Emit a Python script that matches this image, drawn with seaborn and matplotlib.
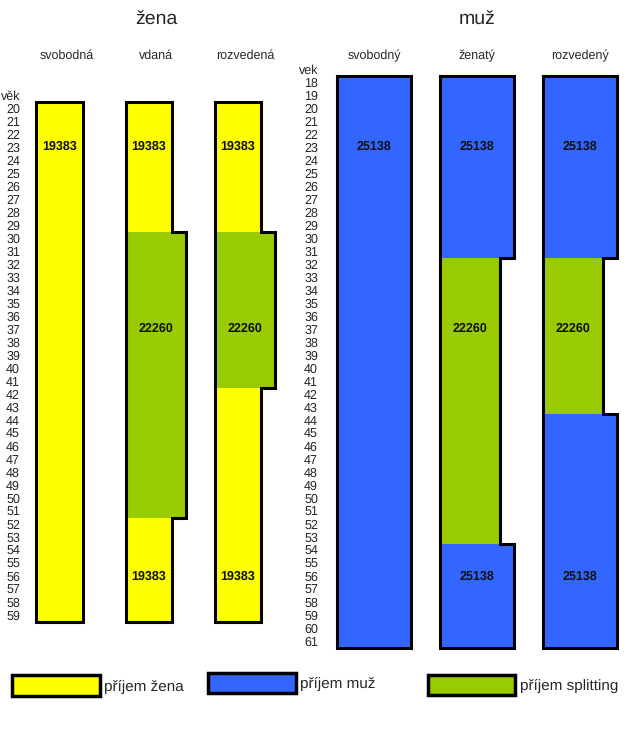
import matplotlib
matplotlib.use("Agg")
import matplotlib.pyplot as plt
from matplotlib.patches import Patch
import seaborn as sns
import pandas as pd

# ---------------- data ----------------
INCOME_ZENA = 19383
INCOME_MUZ = 25138
INCOME_SPLITTING = 22260

panel_titles = ["žena", "muž"]
age_headers = ["věk", "vek"]
women_ages = list(range(20, 60))
men_ages = list(range(18, 62))
women_columns = ["svobodná", "vdaná", "rozvedená"]
men_columns = ["svobodný", "ženatý", "rozvedený"]
women_segments = [
    [(20, 59, "žena")],
    [(20, 29, "žena"), (30, 51, "splitting"), (52, 59, "žena")],
    [(20, 29, "žena"), (30, 41, "splitting"), (42, 59, "žena")],
]
men_segments = [
    [(18, 61, "muž")],
    [(18, 31, "muž"), (32, 53, "splitting"), (54, 61, "muž")],
    [(18, 31, "muž"), (32, 43, "splitting"), (44, 61, "muž")],
]
label_ages = [23, 37, 56]
legend_kinds = ["žena", "muž", "splitting"]
legend_labels = ["příjem žena", "příjem muž", "příjem splitting"]

income_by_kind = {"žena": INCOME_ZENA, "muž": INCOME_MUZ, "splitting": INCOME_SPLITTING}
palette = {"žena": "#FFFF00", "muž": "#3366FF", "splitting": "#99CC00"}

# ---------------- style / layout ----------------
sns.set_style("white")
plt.rcParams["font.family"] = ["Liberation Sans", "DejaVu Sans"]
plt.rcParams["text.hinting"] = "no_hinting"

FIG_W, FIG_H = 640, 730
BASE = 9723                 # income at which a column has zero width
PX_PER_UNIT = 28 / 5755     # horizontal px per income unit
AX_W = 80                   # axes width in px
AGE_TOP, AGE_BOT = 16.5, 61.5
PX_TOP, PX_BOT = 62.5, 647.5

fig = plt.figure(figsize=(FIG_W / 100, FIG_H / 100), dpi=100)

panels = [
    dict(title=panel_titles[0], header=age_headers[0], ages=women_ages,
         columns=women_columns, segments=women_segments,
         lefts=[36.5, 125.5, 214.5], pad=11.9),
    dict(title=panel_titles[1], header=age_headers[1], ages=men_ages,
         columns=men_columns, segments=men_segments,
         lefts=[336.5, 439.5, 542.5], pad=13.3),
]

for panel in panels:
    panel_max = max(income_by_kind[k] for segs in panel["segments"] for (_, _, k) in segs)
    for ci, (col_name, segs, left) in enumerate(zip(panel["columns"], panel["segments"], panel["lefts"])):
        rows = []
        for (a0, a1, kind) in segs:
            for a in panel["ages"]:
                if a0 <= a <= a1:
                    rows.append(dict(age=a, income=income_by_kind[kind], kind=kind))
        df = pd.DataFrame(rows).sort_values("age")

        ax = fig.add_axes([left / FIG_W, 1 - PX_BOT / FIG_H, AX_W / FIG_W, (PX_BOT - PX_TOP) / FIG_H])
        sns.barplot(data=df, x="income", y="age", hue="kind", palette=palette,
                    orient="y", native_scale=True, width=1, dodge=False,
                    saturation=1, linewidth=0, errorbar=None, legend=False,
                    antialiased=False, ax=ax)
        ax.set_xlabel("")
        ax.set_ylabel("")
        ax.set_xticks([])
        for s in ax.spines.values():
            s.set_visible(False)

        if ci == 0:
            ticks = [panel["ages"][0] - 1] + panel["ages"]
            labels = [panel["header"]] + [str(a) for a in panel["ages"]]
            ax.set_yticks(ticks)
            ax.set_yticklabels(labels, fontsize=9)
            ax.tick_params(axis="y", length=0, pad=panel["pad"])
        else:
            ax.set_yticks([])
        ax.set_xlim(BASE, BASE + AX_W / PX_PER_UNIT)
        ax.set_ylim(AGE_BOT, AGE_TOP)

        # outline of the column shape
        ages = df["age"].tolist()
        vals = df["income"].tolist()
        xs = [BASE]
        ys = [ages[0] - 0.5]
        for a, v in zip(ages, vals):
            xs += [v, v]
            ys += [a - 0.5, a + 0.5]
        xs += [BASE, BASE]
        ys += [ages[-1] + 0.5, ages[0] - 0.5]
        ax.plot(xs, ys, color="black", lw=2.2, clip_on=False,
                solid_joinstyle="miter", solid_capstyle="projecting")

        # value labels: one per segment
        for (a0, a1, kind) in segs:
            for la in label_ages:
                if a0 <= la <= a1:
                    ax.text((BASE + income_by_kind[kind]) / 2, la, str(income_by_kind[kind]),
                            ha="center", va="center", fontsize=9, fontweight="bold",
                            color="#111111")
                    break

        # column header
        ax.text((BASE + panel_max) / 2, 16.0, col_name, ha="center", va="center",
                fontsize=9, clip_on=False)
        if ci == 1:
            ax.text((BASE + panel_max) / 2, 13.2, panel["title"], ha="center",
                    va="center", fontsize=14, clip_on=False)

# ---------------- legend ----------------
legend_pos = [(12.3, 675.0), (208.3, 672.5), (427.5, 674.5)]
for kind, lab, (lx, ly) in zip(legend_kinds, legend_labels, legend_pos):
    h = Patch(facecolor=palette[kind], edgecolor="black", linewidth=2.5)
    fig.legend(handles=[h], labels=[lab], loc="upper left",
               bbox_to_anchor=(lx / FIG_W, 1 - ly / FIG_H), frameon=False,
               fontsize=11, handlelength=5.73, handleheight=1.73,
               handletextpad=0.3, borderpad=0, borderaxespad=0)

fig.savefig("out.png", dpi=100)
